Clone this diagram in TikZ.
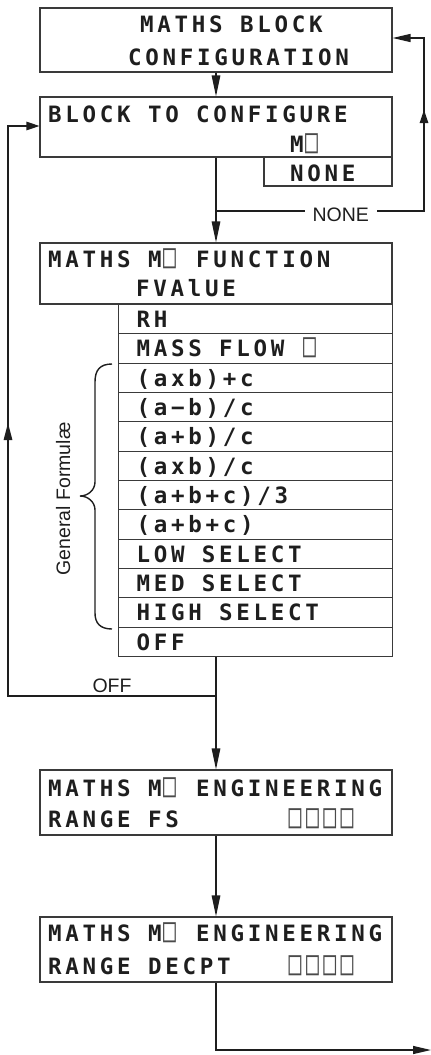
\documentclass[tikz,border=0pt]{standalone}
\usepackage{fontspec}
\setmainfont{Liberation Sans}
\newfontfamily\lcd{DejaVu Sans Mono}[LetterSpace=16.5]
\usetikzlibrary{arrows.meta,decorations.markings}
\definecolor{ink}{HTML}{1E1E1E}
\definecolor{boxc}{HTML}{3A3A3A}
\definecolor{phc}{HTML}{4A4A4A}
\newcommand\rowtext[1]{\makebox[238pt][l]{#1}}
\newcommand\phbox{\makebox[17.3pt][l]{\kern1.5pt\scalebox{0.95}[1.5]{\color{phc}\mdseries □}}}
\begin{document}
\begin{tikzpicture}[x=1pt,y=-1pt,
  box/.style={draw=boxc,line width=1.1pt,inner sep=0pt,rectangle},
  lcdtxt/.style={anchor=base west,inner sep=0pt,text=ink,font=\lcd\bfseries\fontsize{22.5}{26}\selectfont},
  rowbox/.style={draw=boxc,line width=1.1pt,rectangle,anchor=north west,minimum width=274pt,minimum height=29.33pt,
     inner xsep=18pt,inner ysep=0pt,text height=16.4pt,text depth=0pt,
     text=ink,font=\lcd\bfseries\fontsize{22.5}{26}\selectfont},
  conn/.style={draw=ink,line width=1.3pt},
  tipd/.style={-{Triangle[length=21pt,width=8.5pt]}},
  tipl/.style={-{Triangle[length=18pt,width=8pt]}},
  tips/.style={-{Triangle[length=13pt,width=8.5pt]}},
  midtip/.style 2 args={postaction={decorate},decoration={markings,mark=at position #1 with {\arrow{Triangle[length=#2,width=8.5pt]}}}},
  lbl/.style={text=ink,font=\fontsize{19.5}{22}\selectfont,inner ysep=1pt}
]
\useasboundingbox (0,0) rectangle (431,1055);

% main boxes
\node[box,minimum width=352pt,minimum height=64pt] (b1) at (216,40) {};
\node[box,minimum width=352pt,minimum height=60pt] (b2) at (216,127) {};
\node[box,minimum width=128pt,minimum height=29pt] (nbx) at (328,171.5) {};
\node[box,minimum width=352pt,minimum height=61pt] (b3) at (216,273.5) {};
\node[box,minimum width=352pt,minimum height=65pt] (b4) at (216,802.5) {};
\node[box,minimum width=352pt,minimum height=65pt] (b5) at (216,949.5) {};

% texts of boxes
\node[lcdtxt] (t1a) at (140,32.5) {MATHS BLOCK};
\node[lcdtxt] (t1b) at (128,65) {CONFIGURATION};
\node[lcdtxt] (t2a) at (48,122) {BLOCK TO CONFIGURE};
\node[lcdtxt] (t2b) at (290,152) {M\phbox};
\node[lcdtxt] (tn) at (290,181) {NONE};
\node[lcdtxt] (t3a) at (48,267.3) {MATHS M\phbox{} FUNCTION};
\node[lcdtxt] (t3b) at (136,296.7) {FVAlUE};
\node[lcdtxt] (t4a) at (48,796) {MATHS M\phbox{} ENGINEERING};
\node[lcdtxt] (t4b) at (48,827.3) {RANGE FS};
\node[lcdtxt] (t4c) at (287,827.3) {\phbox\phbox\phbox\phbox};
\node[lcdtxt] (t5a) at (48,941.7) {MATHS M\phbox{} ENGINEERING};
\node[lcdtxt] (t5b) at (48,974) {RANGE DECPT};
\node[lcdtxt] (t5c) at (287,974) {\phbox\phbox\phbox\phbox};

% list rows
\node[rowbox] (r1) at (118,304) {\rowtext{RH}};
\node[rowbox] (r2) at (118,333.33) {\rowtext{MASS FLOW \phbox}};
\node[rowbox] (r3) at (118,362.67) {\rowtext{(axb)+c}};
\node[rowbox] (r4) at (118,392) {\rowtext{(a−b)/c}};
\node[rowbox] (r5) at (118,421.33) {\rowtext{(a+b)/c}};
\node[rowbox] (r6) at (118,450.67) {\rowtext{(axb)/c}};
\node[rowbox] (r7) at (118,480) {\rowtext{(a+b+c)/3}};
\node[rowbox] (r8) at (118,509.33) {\rowtext{(a+b+c)}};
\node[rowbox] (r9) at (118,538.67) {\rowtext{LOW SELECT}};
\node[rowbox] (r10) at (118,568) {\rowtext{MED SELECT}};
\node[rowbox] (r11) at (118,597.33) {\rowtext{HIGH SELECT}};
\node[rowbox] (r12) at (118,626.67) {\rowtext{OFF}};

% brace and its label
\draw[ink,line width=1.4pt] (112,364) .. controls (100,364) and (95,370) .. (95,382) -- (95,482)
   .. controls (95,490) and (88,496) .. (80,496) .. controls (88,496) and (95,502) .. (95,510)
   -- (95,613) .. controls (95,623) and (100,629) .. (112,629);
\node[rotate=90,anchor=base,inner sep=0pt,text=ink,font=\fontsize{19.5}{21}\selectfont] (gf) at (70,499) {General Formulæ};

% coordinates
\coordinate (nb) at (216,211);
\coordinate (nr) at (424,211);
\coordinate (nt) at (424,38);
\coordinate (ob) at (216,696);
\coordinate (ol) at (8,696);
\coordinate (otop) at (8,126);
\coordinate (bb) at (216,1050);
\coordinate (out) at (431,1050);

% connectors
\draw[conn,tipd] (b1.south) -- (b2.north);
\draw[conn,tipd] (b2.south) -- (b3.north);
\draw[conn,tipl,midtip={309pt}{13pt}] (nb) -- node[lbl,pos=0.6,fill=white,inner xsep=8pt,yshift=-4pt] (lnone) {NONE} (nr) -- (nt) -- (b1.east |- nt);
\draw[conn,tipd] (b4.north |- r12.south) -- (b4.north);
\draw[conn,tips,midtip={481pt}{17pt}] (ob) -- node[lbl,anchor=base,yshift=4pt,inner sep=0pt] (loff) {OFF} (ol) -- (otop) -- (b2.west |- otop);
\draw[conn,tipd] (b4.south) -- (b5.north);
\draw[conn,tipl] (b5.south) -- (bb) -- (out);
\end{tikzpicture}
\end{document}
